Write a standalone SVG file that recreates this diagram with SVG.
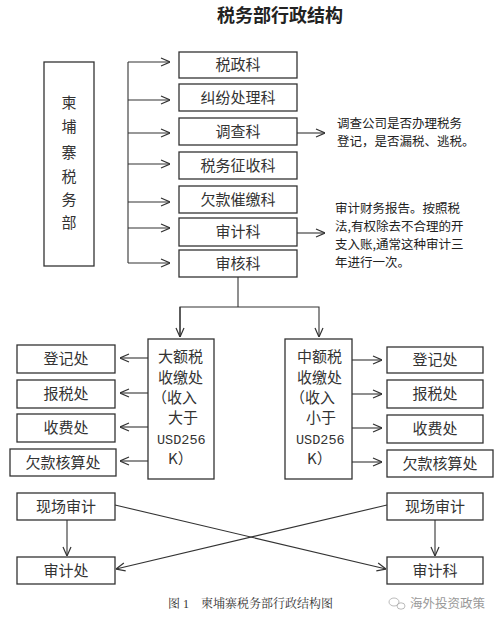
<svg xmlns="http://www.w3.org/2000/svg" width="500" height="627" viewBox="0 0 500 627">
<defs>
<marker id="ah" viewBox="0 0 10 10" refX="10" refY="5" markerWidth="10" markerHeight="10" markerUnits="userSpaceOnUse" orient="auto">
<polyline points="1,1 10,5 1,9" fill="none" stroke="#333" stroke-width="1.2"/>
</marker>
<style>
.b{fill:#fff;stroke:#333;stroke-width:1.3}
.t{font-family:"Noto Sans CJK SC","Liberation Sans",sans-serif;font-size:15px;fill:#333}
.c{text-anchor:middle}
.s{font-family:"Noto Sans CJK SC","Liberation Sans",sans-serif;font-size:12.5px;fill:#222}
.m{font-family:"Liberation Mono","Noto Sans CJK SC",monospace;font-size:13.5px;fill:#333}
.l{fill:none;stroke:#333;stroke-width:1.1}
.a{fill:none;stroke:#333;stroke-width:1.1;marker-end:url(#ah)}
</style>
</defs>
<rect width="500" height="627" fill="#fff"/>
<text x="280" y="22" class="c" style="font-family:'Noto Sans CJK SC',sans-serif;font-size:18px;font-weight:bold;fill:#222">税务部行政结构</text>

<g id="root">
<rect class="b" x="44" y="62" width="50" height="204"/>
<text class="t c" x="69" y="108">柬</text>
<text class="t c" x="69" y="132">埔</text>
<text class="t c" x="69" y="158">寨</text>
<text class="t c" x="69" y="182">税</text>
<text class="t c" x="69" y="205">务</text>
<text class="t c" x="69" y="228">部</text>
</g>
<g id="n1"><rect class="b" x="179" y="52" width="118" height="26"/><text class="t c" x="238" y="70">税政科</text></g>
<g id="n2"><rect class="b" x="179" y="84" width="118" height="27"/><text class="t c" x="238" y="103">纠纷处理科</text></g>
<g id="n3"><rect class="b" x="179" y="118" width="118" height="27"/><text class="t c" x="238" y="137">调查科</text></g>
<g id="n4"><rect class="b" x="179" y="152" width="118" height="27"/><text class="t c" x="238" y="171">税务征收科</text></g>
<g id="n5"><rect class="b" x="179" y="186" width="118" height="27"/><text class="t c" x="238" y="205">欠款催缴科</text></g>
<g id="n6"><rect class="b" x="179" y="218" width="118" height="28"/><text class="t c" x="238" y="237">审计科</text></g>
<g id="n7"><rect class="b" x="179" y="250" width="118" height="27"/><text class="t c" x="238" y="269">审核科</text></g>

<g id="note1">
<text class="s" x="337" y="128">调查公司是否办理税务</text>
<text class="s" x="337" y="146">登记，是否漏税、逃税。</text>
</g>
<g id="note2">
<text class="s" x="335" y="213">审计财务报告。按照税</text>
<text class="s" x="335" y="231">法,有权除去不合理的开</text>
<text class="s" x="335" y="249">支入账,通常这种审计三</text>
<text class="s" x="335" y="267">年进行一次。</text>
</g>

<g id="big">
<rect class="b" x="148" y="339" width="66" height="140"/>
<text class="t" x="158" y="362">大额税</text>
<text class="t" x="158" y="383">收缴处</text>
<text class="t" x="152" y="403">（收入</text>
<text class="t" x="168" y="423">大于</text>
<text class="m" x="157" y="444">USD256</text>
<text class="t" x="168" y="464">K）</text>
</g>
<g id="mid">
<rect class="b" x="285" y="339" width="67" height="140"/>
<text class="t" x="297" y="362">中额税</text>
<text class="t" x="297" y="383">收缴处</text>
<text class="t" x="290" y="403">（收入</text>
<text class="t" x="306" y="423">小于</text>
<text class="m" x="296" y="444">USD256</text>
<text class="t" x="307" y="464">K）</text>
</g>

<g id="L1"><rect class="b" x="17" y="345" width="98" height="28"/><text class="t c" x="66" y="364">登记处</text></g>
<g id="L2"><rect class="b" x="17" y="380" width="98" height="28"/><text class="t c" x="66" y="399">报税处</text></g>
<g id="L3"><rect class="b" x="17" y="414" width="98" height="28"/><text class="t c" x="66" y="433">收费处</text></g>
<g id="L4"><rect class="b" x="10" y="449" width="106" height="27"/><text class="t c" x="63" y="468">欠款核算处</text></g>

<g id="R1"><rect class="b" x="387" y="347" width="96" height="26"/><text class="t c" x="435" y="365">登记处</text></g>
<g id="R2"><rect class="b" x="387" y="380" width="96" height="28"/><text class="t c" x="435" y="399">报税处</text></g>
<g id="R3"><rect class="b" x="387" y="415" width="96" height="28"/><text class="t c" x="435" y="434">收费处</text></g>
<g id="R4"><rect class="b" x="387" y="450" width="106" height="27"/><text class="t c" x="440" y="469">欠款核算处</text></g>

<g id="A1"><rect class="b" x="17" y="493" width="98" height="27"/><text class="t c" x="66" y="512">现场审计</text></g>
<g id="A2"><rect class="b" x="17" y="557" width="98" height="27"/><text class="t c" x="66" y="576">审计处</text></g>
<g id="A3"><rect class="b" x="387" y="493" width="96" height="27"/><text class="t c" x="435" y="512">现场审计</text></g>
<g id="A4"><rect class="b" x="387" y="557" width="96" height="27"/><text class="t c" x="435" y="576">审计科</text></g>

<g id="connectors">
<line class="l" x1="128" y1="62" x2="128" y2="263"/>
<line class="a" x1="128" y1="62" x2="170" y2="62"/>
<line class="a" x1="128" y1="100" x2="170" y2="100"/>
<line class="a" x1="128" y1="133" x2="170" y2="133"/>
<line class="a" x1="128" y1="164" x2="170" y2="164"/>
<line class="a" x1="128" y1="202" x2="170" y2="202"/>
<line class="a" x1="128" y1="228" x2="170" y2="228"/>
<line class="a" x1="128" y1="263" x2="170" y2="263"/>
<line class="a" x1="297" y1="133" x2="325" y2="133"/>
<line class="a" x1="297" y1="233" x2="325" y2="233"/>
<polyline class="l" points="238,277 238,307"/>
<polyline class="a" points="180,337 180,307 319,307 319,337"/>
<line class="a" x1="180" y1="307" x2="180" y2="337"/>
<line class="a" x1="148" y1="358" x2="120" y2="358"/>
<line class="a" x1="148" y1="393" x2="120" y2="393"/>
<line class="a" x1="148" y1="427" x2="120" y2="427"/>
<line class="a" x1="148" y1="461" x2="120" y2="461"/>
<line class="a" x1="352" y1="360" x2="382" y2="360"/>
<line class="a" x1="352" y1="394" x2="382" y2="394"/>
<line class="a" x1="352" y1="428" x2="382" y2="428"/>
<line class="a" x1="352" y1="462" x2="382" y2="462"/>
<line class="a" x1="67" y1="520" x2="67" y2="556"/>
<line class="a" x1="435" y1="520" x2="435" y2="556"/>
<line class="a" x1="115" y1="505" x2="386" y2="569"/>
<line class="a" x1="387" y1="505" x2="116" y2="569"/>
</g>

<text x="168" y="608" style="font-family:'Liberation Serif','Noto Serif CJK SC','Noto Sans CJK SC',serif;font-size:12px;fill:#333">图 1　柬埔寨税务部行政结构图</text>
<g id="watermark" fill="none" stroke="#aaa" stroke-width="0.8">
<ellipse cx="394" cy="602" rx="5" ry="4"/>
<ellipse cx="401" cy="606" rx="4" ry="3.2"/>
</g>
<text x="410" y="608" style="font-family:'Noto Sans CJK SC',sans-serif;font-size:12.5px;fill:#999">海外投资政策</text>
</svg>
